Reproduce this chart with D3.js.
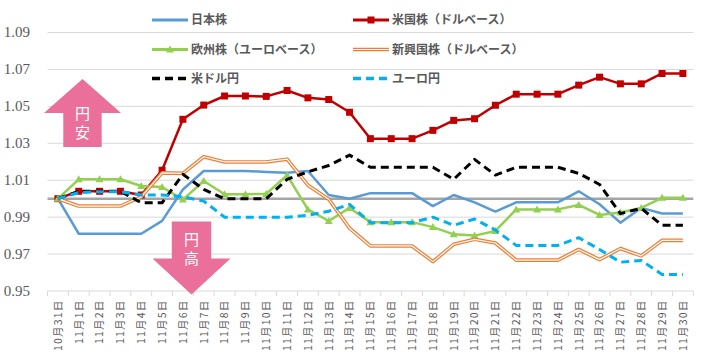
<!DOCTYPE html>
<html><head><meta charset="utf-8">
<script src="https://cdn.jsdelivr.net/npm/d3@7"></script>
<style>
html,body{margin:0;padding:0;background:#fff;}
svg{display:block;}
</style></head>
<body>
<svg id="chart" width="705" height="356"></svg>
<script>
const dates = ["10月31日","11月1日","11月2日","11月3日","11月4日","11月5日","11月6日","11月7日","11月8日","11月9日","11月10日","11月11日","11月12日","11月13日","11月14日","11月15日","11月16日","11月17日","11月18日","11月19日","11月20日","11月21日","11月22日","11月23日","11月24日","11月25日","11月26日","11月27日","11月28日","11月29日","11月30日"];
const japan  = [1.000,0.981,0.981,0.981,0.981,0.988,1.005,1.015,1.015,1.015,1.0145,1.014,1.015,1.002,1.000,1.003,1.003,1.003,0.996,1.002,0.998,0.993,0.998,0.998,0.998,1.004,0.997,0.987,0.995,0.992,0.992];
const usStk  = [1.000,1.004,1.004,1.004,1.002,1.0154,1.043,1.0507,1.0556,1.0556,1.0554,1.0586,1.0546,1.0537,1.0468,1.0325,1.0325,1.0325,1.037,1.0424,1.0433,1.0506,1.0566,1.0566,1.0566,1.0615,1.0658,1.0622,1.0622,1.0678,1.0678];
const europe = [1.000,1.0105,1.0105,1.0105,1.0069,1.0063,0.9995,1.0096,1.0024,1.0024,1.0026,1.0127,0.9942,0.9879,0.995,0.9873,0.9873,0.9873,0.9846,0.9807,0.980,0.9825,0.9942,0.9942,0.9942,0.9966,0.9912,0.9925,0.995,1.0005,1.0005];
const emerg  = [1.000,0.996,0.996,0.996,1.001,1.014,1.0137,1.0227,1.0199,1.0199,1.0199,1.0214,1.0073,0.9997,0.984,0.9744,0.9744,0.9744,0.9659,0.9753,0.978,0.976,0.9667,0.9667,0.9667,0.9725,0.967,0.973,0.969,0.9774,0.9774];
const usdjpy = [1.000,1.004,1.004,1.004,0.9978,0.9978,1.0132,1.005,1.000,1.000,1.000,1.0105,1.0145,1.018,1.0236,1.017,1.017,1.017,1.017,1.0105,1.0213,1.0128,1.017,1.017,1.017,1.0137,1.0077,0.9919,0.9948,0.9856,0.9856];
const eurjpy = [1.000,1.0033,1.0038,1.0038,1.002,1.002,1.001,0.9987,0.990,0.990,0.990,0.990,0.991,0.9932,0.9969,0.987,0.987,0.987,0.990,0.9856,0.989,0.983,0.9747,0.9747,0.9747,0.9789,0.9725,0.9656,0.9665,0.959,0.959];
const yTicks = [0.95,0.97,0.99,1.01,1.03,1.05,1.07,1.09];
const seriesNames = ["日本株","米国株（ドルベース）","欧州株（ユーロベース）","新興国株（ドルベース）","米ドル円","ユーロ円"];
const arrowLabels = ["円安","円高"];

const series = [
  {name:seriesNames[0], values:japan,  type:"solid",  color:"#5B9BD5"},
  {name:seriesNames[1], values:usStk,  type:"square", color:"#C00000"},
  {name:seriesNames[2], values:europe, type:"tri",    color:"#92D050"},
  {name:seriesNames[3], values:emerg,  type:"double", color:"#ED7D31"},
  {name:seriesNames[4], values:usdjpy, type:"dash",   color:"#000000"},
  {name:seriesNames[5], values:eurjpy, type:"dash",   color:"#00B0F0"}
];

const svg = d3.select("#chart");
const pL = 47.5, pR = 693.3, pT = 32.5, pB = 291;
const x = d3.scaleBand().domain(dates).range([pL, pR]).padding(0);
const y = d3.scaleLinear().domain([0.95, 1.09]).range([pB, pT]);
const cx = d => x(d) + x.bandwidth()/2;

// gridlines
svg.append("g").selectAll("line").data(yTicks).join("line")
  .attr("x1", pL).attr("x2", pR)
  .attr("y1", d => y(d)).attr("y2", d => y(d))
  .attr("stroke", "#D9D9D9").attr("stroke-width", 1);

// y labels
svg.append("g").selectAll("text").data(yTicks).join("text")
  .attr("x", 30).attr("y", d => y(d)).attr("dy", "0.32em")
  .attr("text-anchor", "end")
  .attr("font-family", "'Liberation Serif', serif").attr("font-size", 15)
  .attr("fill", "#595959")
  .text(d => d.toFixed(2));

// x ticks at band boundaries
const bounds = dates.map(d => x(d)).concat([x(dates[dates.length-1]) + x.bandwidth()]);
svg.append("g").selectAll("line").data(bounds).join("line")
  .attr("x1", d => d).attr("x2", d => d)
  .attr("y1", pB).attr("y2", pB + 5)
  .attr("stroke", "#D9D9D9").attr("stroke-width", 1);

// x labels
svg.append("g").selectAll("text").data(dates).join("text")
  .attr("transform", d => `translate(${cx(d)},299.5) rotate(-90)`)
  .attr("text-anchor", "end").attr("dy", "0.36em")
  .attr("font-family", "'Noto Sans CJK JP', sans-serif").attr("font-size", 10.5)
  .attr("letter-spacing", 1.2)
  .attr("fill", "#595959")
  .text(d => d);

// 1.00 reference line
svg.append("line")
  .attr("x1", pL).attr("x2", pR)
  .attr("y1", y(1)).attr("y2", y(1))
  .attr("stroke", "#A5A5A5").attr("stroke-width", 2.5);

// arrows
const pink = "#EA6F9A";
function arrowPath(xc, tipY, headY, endY, headHalf, shaftHalf) {
  return `M${xc},${tipY} L${xc+headHalf},${headY} L${xc+shaftHalf},${headY} L${xc+shaftHalf},${endY} L${xc-shaftHalf},${endY} L${xc-shaftHalf},${headY} L${xc-headHalf},${headY} Z`;
}
svg.append("path").attr("d", arrowPath(82.5, 79, 113, 147, 38.5, 19.2)).attr("fill", pink);
svg.append("path").attr("d", arrowPath(191.5, 294.5, 258.5, 221.5, 39, 19.7)).attr("fill", pink);
const arrowFont = "'Noto Sans CJK JP', sans-serif";
[[82.5,114,arrowLabels[0][0]],[82.5,133,arrowLabels[0][1]],[191.5,240,arrowLabels[1][0]],[191.5,259,arrowLabels[1][1]]].forEach(t => {
  svg.append("text").attr("x", t[0]).attr("y", t[1]).attr("text-anchor","middle").attr("dy","0.36em")
    .attr("font-family", arrowFont).attr("font-size", 15).attr("fill", "#fff").text(t[2]);
});

// lines
const line = d3.line().x((v,i) => cx(dates[i])).y(v => y(v));
const g = svg.append("g");
series.forEach(s => {
  if (s.type === "double") {
    g.append("path").attr("d", line(s.values)).attr("fill","none")
      .attr("stroke", s.color).attr("stroke-width", 3.6).attr("stroke-linejoin","round");
    g.append("path").attr("d", line(s.values)).attr("fill","none")
      .attr("stroke", "#fff").attr("stroke-width", 1.2).attr("stroke-linejoin","round");
  } else {
    const p = g.append("path").attr("d", line(s.values)).attr("fill","none")
      .attr("stroke", s.color).attr("stroke-width", s.type === "dash" ? 3 : 2.5)
      .attr("stroke-linejoin","round");
    if (s.type === "dash") p.attr("stroke-dasharray", "8,5");
  }
  if (s.type === "square") {
    g.append("g").selectAll("rect").data(s.values).join("rect")
      .attr("x", (v,i) => cx(dates[i]) - 3.5).attr("y", v => y(v) - 3.5)
      .attr("width", 7).attr("height", 7).attr("fill", s.color);
  }
  if (s.type === "tri") {
    g.append("g").selectAll("path").data(s.values).join("path")
      .attr("d", (v,i) => { const px = cx(dates[i]), py = y(v); return `M${px},${py-4} L${px+4},${py+3} L${px-4},${py+3} Z`; })
      .attr("fill", s.color);
  }
});

// legend
const legPos = [[152,20],[353,20],[152,49.5],[353,49.5],[152,78.5],[353,78.5]];
series.forEach((s, k) => {
  const [lx, ly] = legPos[k];
  const lg = svg.append("g");
  if (s.type === "double") {
    lg.append("line").attr("x1", lx).attr("x2", lx+36).attr("y1", ly).attr("y2", ly).attr("stroke", s.color).attr("stroke-width", 3.6);
    lg.append("line").attr("x1", lx).attr("x2", lx+36).attr("y1", ly).attr("y2", ly).attr("stroke", "#fff").attr("stroke-width", 1.2);
  } else {
    const l = lg.append("line").attr("x1", lx).attr("x2", lx+36).attr("y1", ly).attr("y2", ly)
      .attr("stroke", s.color).attr("stroke-width", s.type === "dash" ? 3.5 : 3);
    if (s.type === "dash") l.attr("stroke-dasharray", "8,5");
  }
  if (s.type === "square") lg.append("rect").attr("x", lx+14.5).attr("y", ly-3.5).attr("width",7).attr("height",7).attr("fill", s.color);
  if (s.type === "tri") lg.append("path").attr("d", `M${lx+18},${ly-4} L${lx+22},${ly+3} L${lx+14},${ly+3} Z`).attr("fill", s.color);
  lg.append("text").attr("x", lx+39).attr("y", ly).attr("dy","0.36em")
    .attr("font-family", "'Noto Sans CJK JP', sans-serif").attr("font-size", 12).attr("font-weight", 700)
    .attr("fill", "#595959").text(s.name);
});
</script>
</body></html>
